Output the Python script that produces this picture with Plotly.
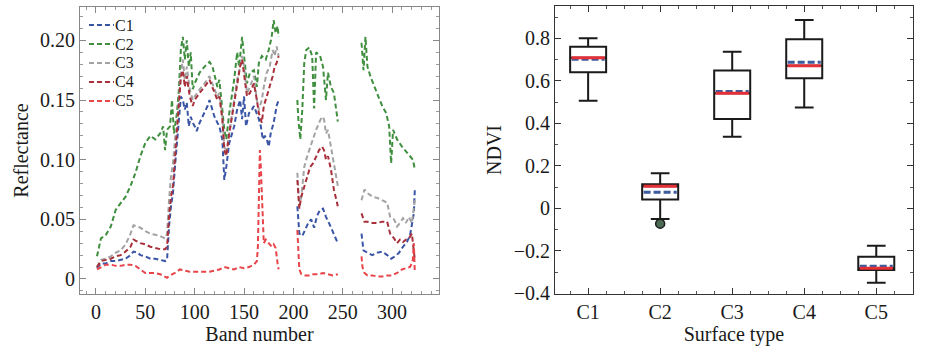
import plotly.graph_objects as go

# ---------------- Left panel: reflectance spectra ----------------
series_names = ["C1", "C2", "C3", "C4", "C5"]
series_colors = ["#3a55a5", "#3f8f3f", "#a3a3a3", "#a8303a", "#e8454a"]

c1_bands = [[1,5,10,15,20,25,30,35,38,42,45,50,55,60,65,70,72,74,76,78,80,82,84,86,88,90,92,94,96,98,100,102,105,110,113,115,118,120,123,125,128,130,132,135,140,143,146,148,150,152,155,158,160,163,165,167,169,171,173,175,177,180,183,185],
            [204,206,209,212,215,218,221,224,227,230,233,236,239,242,245],
            [269,271,275,280,285,290,295,299,303,307,311,315,318,320,322,323]]
c1_refl = [[0.009,0.013,0.013,0.015,0.015,0.016,0.017,0.020,0.023,0.022,0.020,0.019,0.017,0.017,0.016,0.015,0.016,0.044,0.061,0.072,0.094,0.114,0.136,0.153,0.150,0.142,0.148,0.128,0.136,0.131,0.128,0.124,0.131,0.139,0.145,0.150,0.142,0.136,0.131,0.128,0.117,0.083,0.094,0.114,0.128,0.142,0.150,0.134,0.153,0.128,0.139,0.142,0.145,0.139,0.134,0.128,0.117,0.120,0.117,0.111,0.122,0.131,0.145,0.150],
           [0.061,0.038,0.036,0.041,0.047,0.050,0.043,0.053,0.058,0.059,0.052,0.047,0.041,0.036,0.030],
           [0.038,0.024,0.022,0.020,0.022,0.023,0.020,0.017,0.019,0.022,0.027,0.031,0.036,0.044,0.055,0.075]]

c2_bands = [[1,5,10,15,20,25,30,35,40,45,50,55,60,65,68,70,72,75,77,79,82,84,86,88,90,92,94,96,98,100,105,110,115,118,120,123,125,128,130,132,135,140,143,145,148,150,153,156,160,163,165,168,172,175,178,180,182,184,185],
            [204,205,207,209,211,213,216,219,221,223,227,230,233,235,238,241,245],
            [269,271,273,275,278,282,286,290,294,297,299,301,305,310,314,318,321,323]]
c2_refl = [[0.019,0.034,0.037,0.044,0.058,0.064,0.069,0.078,0.089,0.103,0.114,0.120,0.117,0.122,0.128,0.108,0.125,0.128,0.150,0.122,0.139,0.159,0.193,0.203,0.184,0.200,0.178,0.190,0.159,0.164,0.173,0.178,0.182,0.178,0.170,0.161,0.167,0.141,0.125,0.117,0.139,0.167,0.190,0.178,0.203,0.187,0.164,0.173,0.175,0.161,0.181,0.187,0.184,0.192,0.203,0.217,0.206,0.212,0.203],
           [0.150,0.134,0.117,0.142,0.181,0.192,0.194,0.187,0.143,0.190,0.187,0.178,0.150,0.173,0.161,0.156,0.132],
           [0.198,0.175,0.203,0.178,0.170,0.161,0.153,0.145,0.139,0.128,0.097,0.125,0.117,0.111,0.107,0.103,0.100,0.092]]

c3_bands = [[1,5,10,15,20,25,30,35,38,42,45,50,55,60,65,70,72,74,76,78,80,82,84,86,88,90,92,95,98,100,105,110,115,118,120,123,125,128,130,132,135,140,143,146,148,150,153,156,160,163,165,168,170,173,176,179,181,183,185],
            [204,206,208,211,214,217,220,223,226,229,231,233,235,238,241,245],
            [269,272,275,280,285,290,295,298,302,305,308,311,314,317,320,323]]
c3_refl = [[0.010,0.016,0.017,0.019,0.022,0.024,0.029,0.038,0.045,0.044,0.043,0.040,0.038,0.037,0.036,0.034,0.038,0.066,0.086,0.097,0.117,0.128,0.150,0.173,0.184,0.167,0.178,0.159,0.150,0.153,0.159,0.164,0.170,0.164,0.159,0.153,0.156,0.136,0.111,0.106,0.122,0.150,0.167,0.178,0.187,0.178,0.156,0.161,0.170,0.150,0.142,0.150,0.161,0.173,0.178,0.192,0.187,0.195,0.187],
           [0.089,0.061,0.069,0.094,0.103,0.111,0.119,0.125,0.131,0.136,0.134,0.122,0.125,0.111,0.097,0.078],
           [0.066,0.075,0.072,0.069,0.068,0.066,0.064,0.052,0.050,0.044,0.047,0.051,0.047,0.052,0.047,0.066]]

c4_bands = [[1,5,10,15,20,25,30,35,38,42,45,50,55,60,65,70,72,74,76,78,80,82,84,86,88,90,92,95,98,100,105,110,115,118,120,123,125,128,130,132,135,140,143,146,148,150,153,156,160,163,165,168,170,173,176,179,181,183,185],
            [204,206,208,211,214,217,220,223,226,229,231,233,235,238,241,245],
            [269,272,275,280,285,290,295,298,302,305,308,311,314,317,320,323]]
c4_refl = [[0.010,0.015,0.016,0.017,0.019,0.020,0.023,0.027,0.033,0.031,0.030,0.029,0.027,0.026,0.025,0.025,0.027,0.052,0.069,0.078,0.100,0.122,0.150,0.170,0.175,0.161,0.170,0.153,0.145,0.150,0.156,0.161,0.167,0.161,0.156,0.150,0.153,0.134,0.108,0.103,0.122,0.148,0.164,0.178,0.184,0.173,0.153,0.156,0.164,0.150,0.139,0.131,0.145,0.153,0.161,0.170,0.178,0.181,0.187],
           [0.083,0.059,0.069,0.078,0.086,0.094,0.097,0.103,0.108,0.111,0.108,0.100,0.103,0.092,0.075,0.061],
           [0.055,0.048,0.048,0.047,0.047,0.048,0.048,0.038,0.034,0.030,0.033,0.031,0.033,0.034,0.038,0.016]]

c5_bands = [[1,5,10,15,20,25,30,35,40,45,50,55,60,65,70,72,75,80,85,90,95,100,105,110,115,120,125,130,135,140,145,150,155,160,163,164,165,166,167,168,169,170,172,175,178,180,182,184,185],
            [204,205,206,208,212,216,220,225,230,235,240,245],
            [269,270,272,275,280,285,290,295,300,305,310,314,318,320,321,322,323]]
c5_refl = [[0.008,0.010,0.012,0.012,0.011,0.011,0.012,0.012,0.011,0.008,0.005,0.005,0.005,0.004,0.002,0.001,0.003,0.005,0.008,0.007,0.006,0.006,0.006,0.006,0.006,0.007,0.008,0.010,0.009,0.008,0.010,0.009,0.010,0.012,0.015,0.027,0.066,0.108,0.094,0.066,0.038,0.030,0.033,0.030,0.027,0.029,0.026,0.013,0.008],
           [0.041,0.024,0.008,0.004,0.003,0.003,0.004,0.004,0.005,0.004,0.003,0.004],
           [0.019,0.010,0.005,0.003,0.003,0.002,0.002,0.003,0.003,0.005,0.008,0.009,0.010,0.013,0.016,0.030,0.005]]

all_bands = [c1_bands, c2_bands, c3_bands, c4_bands, c5_bands]
all_refl = [c1_refl, c2_refl, c3_refl, c4_refl, c5_refl]

refl_ticks = [0, 0.05, 0.10, 0.15, 0.20]
refl_ticktext = ["0", "0.05", "0.10", "0.15", "0.20"]
band_ticks = [0, 50, 100, 150, 200, 250, 300]

# ---------------- Right panel: NDVI box plot ----------------
surface_types = ["C1", "C2", "C3", "C4", "C5"]
ndvi_lower = [0.506, -0.050, 0.337, 0.475, -0.350]
ndvi_q1 = [0.640, 0.042, 0.420, 0.612, -0.290]
ndvi_median = [0.709, 0.104, 0.541, 0.671, -0.282]
ndvi_mean = [0.701, 0.076, 0.550, 0.687, -0.272]
ndvi_q3 = [0.760, 0.113, 0.648, 0.795, -0.228]
ndvi_upper = [0.800, 0.165, 0.737, 0.886, -0.176]
outlier_type = ["C2"]
outlier_ndvi = [-0.072]


def join_segments(segs):
    out = []
    for i, s in enumerate(segs):
        if i:
            out.append(None)
        out.extend(s)
    return out


FONT = "'Liberation Serif', 'DejaVu Serif', serif"
TXT = "#1a1a1a"
fig = go.Figure()

for name, color, bands, refl in zip(series_names, series_colors, all_bands, all_refl):
    for b, r in zip(bands, refl):
        assert len(b) == len(r), name
    fig.add_trace(go.Scatter(
        x=join_segments(bands), y=join_segments(refl), mode="lines", name=name,
        line=dict(color=color, width=2, dash="5px,3px"),
        connectgaps=False, showlegend=False, xaxis="x", yaxis="y"))

pos = list(range(len(surface_types)))
box_w = 0.5
fig.add_trace(go.Box(
    x=pos, q1=ndvi_q1, median=ndvi_median, q3=ndvi_q3,
    lowerfence=ndvi_lower, upperfence=ndvi_upper,
    orientation="v", width=box_w, whiskerwidth=0.52, boxpoints=False,
    line=dict(color="#1a1a1a", width=2), fillcolor="white",
    showlegend=False, xaxis="x2", yaxis="y2", hoverinfo="skip"))

mx, my, dx, dy = [], [], [], []
for p, m, a in zip(pos, ndvi_median, ndvi_mean):
    mx += [p - box_w / 2 + 0.02, p + box_w / 2 - 0.02, None]
    my += [m, m, None]
    dx += [p - box_w / 2 + 0.02, p + box_w / 2 - 0.02, None]
    dy += [a, a, None]
fig.add_trace(go.Scatter(x=dx, y=dy, mode="lines", line=dict(color="#3b5b9c", width=3, dash="7px,3px"),
                         showlegend=False, xaxis="x2", yaxis="y2"))
fig.add_trace(go.Scatter(x=mx, y=my, mode="lines", line=dict(color="#e53038", width=3),
                         showlegend=False, xaxis="x2", yaxis="y2"))
fig.add_trace(go.Scatter(x=[surface_types.index(t) for t in outlier_type], y=outlier_ndvi, mode="markers",
                         marker=dict(size=9, color="#4d6a55", line=dict(color="#1a1a1a", width=1.5)),
                         showlegend=False, xaxis="x2", yaxis="y2"))

W, H = 931, 352


def px_x(v):
    return v / W


def px_y(v):
    return 1 - v / H


common_axis = dict(showline=True, mirror="allticks", ticks="inside", ticklen=6, tickwidth=1,
                   showgrid=False, zeroline=False, automargin=False,
                   tickfont=dict(family=FONT, size=20, color=TXT))

fig.update_layout(
    width=W, height=H, margin=dict(l=0, r=0, t=0, b=0),
    paper_bgcolor="white", plot_bgcolor="white", showlegend=False,
    font=dict(family=FONT, size=20, color=TXT),
    xaxis=dict(domain=[px_x(80), px_x(439)], range=[-16.2, 347.5], tickvals=band_ticks,
               linecolor="#888", tickcolor="#888",
               minor=dict(ticks="inside", ticklen=3, dtick=10, tick0=0, tickcolor="#999"),
               title=dict(text="Band number", font=dict(family=FONT, size=20, color=TXT), standoff=4),
               **common_axis),
    yaxis=dict(domain=[px_y(294), px_y(7)], range=[-0.0126, 0.228], tickvals=refl_ticks,
               ticktext=refl_ticktext, linecolor="#888", tickcolor="#888",
               minor=dict(ticks="inside", ticklen=3, dtick=0.01, tick0=0, tickcolor="#999"),
               title=dict(text="Reflectance", font=dict(family=FONT, size=20, color=TXT), standoff=6),
               **common_axis),
    xaxis2=dict(domain=[px_x(555), px_x(913)], range=[-0.46, 4.51], tickvals=pos, ticktext=surface_types,
                linecolor="#333", tickcolor="#333", anchor="y2",
                minor=dict(ticks="inside", ticklen=3, dtick=0.25, tick0=0, tickcolor="#555"),
                title=dict(text="Surface type", font=dict(family=FONT, size=20, color=TXT), standoff=4),
                **common_axis),
    yaxis2=dict(domain=[px_y(294), px_y(6)], range=[-0.403, 0.952], dtick=0.2, tick0=0,
                linecolor="#333", tickcolor="#333", anchor="x2",
                minor=dict(ticks="inside", ticklen=3, dtick=0.1, tick0=0, tickcolor="#555"),
                title=dict(text="NDVI", font=dict(family=FONT, size=20, color=TXT), standoff=6),
                **common_axis),
)

# manual compact legend (top-left of left panel)
leg_y0, leg_dy = 25, 19
for i, (name, color) in enumerate(zip(series_names, series_colors)):
    yy = px_y(leg_y0 + i * leg_dy)
    fig.add_shape(type="line", xref="paper", yref="paper", x0=px_x(89), x1=px_x(114), y0=yy, y1=yy,
                  line=dict(color=color, width=2, dash="5px,3px"))
    fig.add_annotation(xref="paper", yref="paper", x=px_x(114), y=yy, text=name, showarrow=False,
                       xanchor="left", yanchor="middle", borderpad=0,
                       font=dict(family=FONT, size=16, color=TXT))

fig.write_html("out.html")
